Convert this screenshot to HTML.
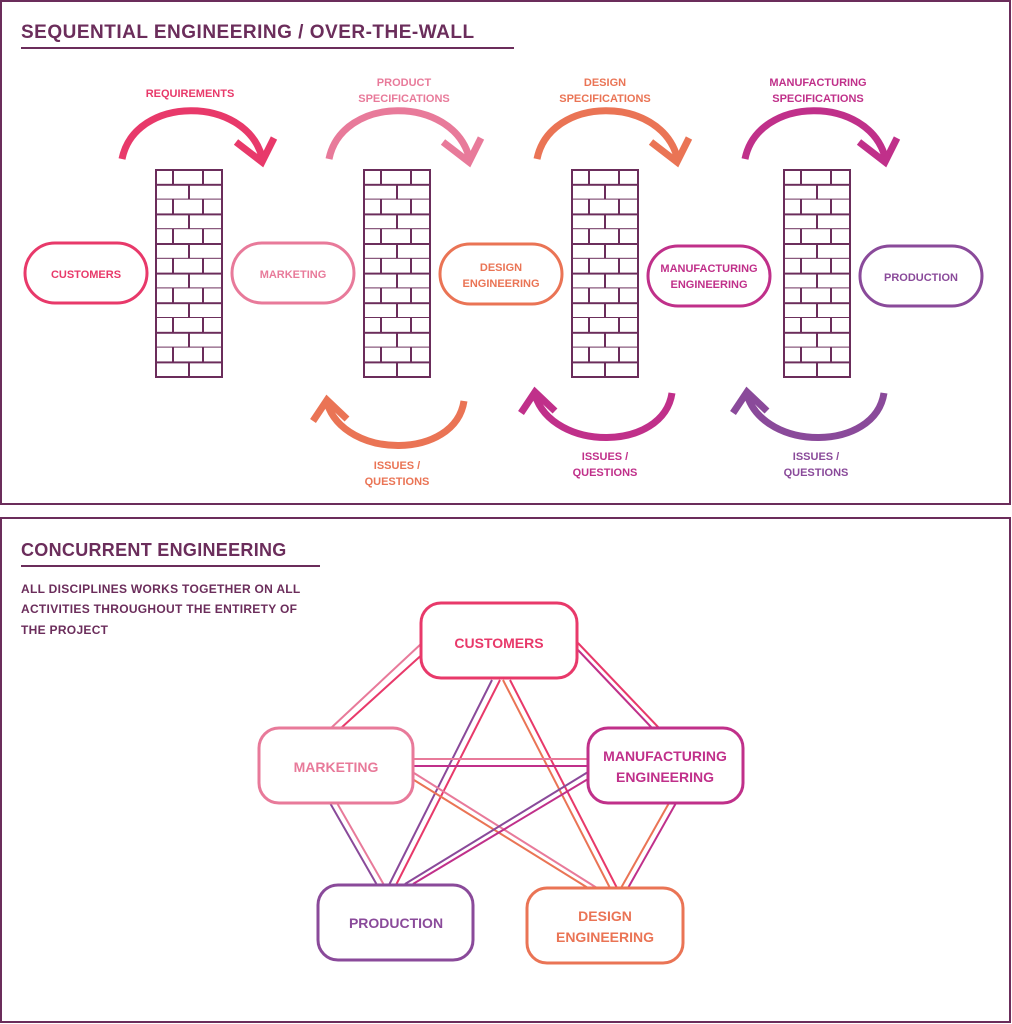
<!DOCTYPE html>
<html><head><meta charset="utf-8"><style>
html,body{margin:0;padding:0;background:#fff}
svg{display:block}
text{font-family:"Liberation Sans",sans-serif;font-weight:bold;text-anchor:middle}
</style></head><body>
<svg width="1012" height="1024" viewBox="0 0 1012 1024" xmlns="http://www.w3.org/2000/svg">
<defs>
<pattern id="br" x="0" y="0" width="66" height="29.6" patternUnits="userSpaceOnUse">
<line x1="0" y1="14.8" x2="66" y2="14.8" stroke="#6b2d5b" stroke-width="2"/>
<line x1="0" y1="29.6" x2="66" y2="29.6" stroke="#6b2d5b" stroke-width="2"/>
<line x1="17" y1="0" x2="17" y2="14.8" stroke="#6b2d5b" stroke-width="2"/>
<line x1="47" y1="0" x2="47" y2="14.8" stroke="#6b2d5b" stroke-width="2"/>
<line x1="33" y1="14.8" x2="33" y2="29.6" stroke="#6b2d5b" stroke-width="2"/>
</pattern>
</defs>
<rect x="1" y="1" width="1009" height="503" fill="none" stroke="#6b2d5b" stroke-width="2"/>
<rect x="1" y="518" width="1009" height="504" fill="none" stroke="#6b2d5b" stroke-width="2"/>
<text x="21" y="38" font-size="19" fill="#6b2d5b" style="text-anchor:start;letter-spacing:0.5px">SEQUENTIAL ENGINEERING / OVER-THE-WALL</text>
<line x1="21" y1="48" x2="514" y2="48" stroke="#6b2d5b" stroke-width="2"/>

<g>
<g transform="translate(156,170)"><rect x="0" y="0" width="66" height="207" fill="url(#br)" stroke="#6b2d5b" stroke-width="2"/></g>
<g transform="translate(364,170)"><rect x="0" y="0" width="66" height="207" fill="url(#br)" stroke="#6b2d5b" stroke-width="2"/></g>
<g transform="translate(572,170)"><rect x="0" y="0" width="66" height="207" fill="url(#br)" stroke="#6b2d5b" stroke-width="2"/></g>
<g transform="translate(784,170)"><rect x="0" y="0" width="66" height="207" fill="url(#br)" stroke="#6b2d5b" stroke-width="2"/></g>
</g>

<g stroke-width="3" fill="#fff" font-size="11">
<rect x="25" y="243" width="122" height="60" rx="30" stroke="#e8396a"/>
<text x="86" y="278" fill="#e8396a" stroke="none">CUSTOMERS</text>
<rect x="232" y="243" width="122" height="60" rx="30" stroke="#e87a9a"/>
<text x="293" y="278" fill="#e87a9a" stroke="none">MARKETING</text>
<rect x="440" y="244" width="122" height="60" rx="30" stroke="#ea7455"/>
<text x="501" y="271" fill="#ea7455" stroke="none">DESIGN</text>
<text x="501" y="287" fill="#ea7455" stroke="none">ENGINEERING</text>
<rect x="648" y="246" width="122" height="60" rx="30" stroke="#c0308a"/>
<text x="709" y="272" fill="#c0308a" stroke="none">MANUFACTURING</text>
<text x="709" y="288" fill="#c0308a" stroke="none">ENGINEERING</text>
<rect x="860" y="246" width="122" height="60" rx="30" stroke="#8a4a9a"/>
<text x="921" y="281" fill="#8a4a9a" stroke="none">PRODUCTION</text>
</g>

<g fill="none" stroke-width="7">
<path d="M122,159 C135,95 245,95 262,157" stroke="#e8396a"/>
<path d="M236,142 L262,162 L274,138" stroke="#e8396a"/>
<path d="M329,159 C342,95 452,95 469,157" stroke="#e87a9a"/>
<path d="M443,142 L469,162 L481,138" stroke="#e87a9a"/>
<path d="M537,159 C550,95 660,95 677,157" stroke="#ea7455"/>
<path d="M651,142 L677,162 L689,138" stroke="#ea7455"/>
<path d="M745,159 C758,95 868,95 885,157" stroke="#c0308a"/>
<path d="M859,142 L885,162 L897,138" stroke="#c0308a"/>
</g>
<g font-size="11">
<text x="190" y="97" fill="#e8396a">REQUIREMENTS</text>
<text x="404" y="86" fill="#e87a9a">PRODUCT</text>
<text x="404" y="102" fill="#e87a9a">SPECIFICATIONS</text>
<text x="605" y="86" fill="#ea7455">DESIGN</text>
<text x="605" y="102" fill="#ea7455">SPECIFICATIONS</text>
<text x="818" y="86" fill="#c0308a">MANUFACTURING</text>
<text x="818" y="102" fill="#c0308a">SPECIFICATIONS</text>
</g>

<g fill="none" stroke-width="7">
<path d="M464,401 C455,460 345,460 327,403" stroke="#ea7455"/>
<path d="M313,421 L327,400 L347,419" stroke="#ea7455"/>
<path d="M672,393 C663,452 553,452 535,395" stroke="#c0308a"/>
<path d="M521,413 L535,392 L555,411" stroke="#c0308a"/>
<path d="M884,393 C875,452 765,452 747,395" stroke="#8a4a9a"/>
<path d="M733,413 L747,392 L767,411" stroke="#8a4a9a"/>
</g>
<g font-size="11">
<text x="397" y="469" fill="#ea7455">ISSUES /</text>
<text x="397" y="485" fill="#ea7455">QUESTIONS</text>
<text x="605" y="460" fill="#c0308a">ISSUES /</text>
<text x="605" y="476" fill="#c0308a">QUESTIONS</text>
<text x="816" y="460" fill="#8a4a9a">ISSUES /</text>
<text x="816" y="476" fill="#8a4a9a">QUESTIONS</text>
</g>

<text x="21" y="556" font-size="18" fill="#6b2d5b" style="text-anchor:start;letter-spacing:0.3px">CONCURRENT ENGINEERING</text>
<line x1="21" y1="566" x2="320" y2="566" stroke="#6b2d5b" stroke-width="2"/>
<g font-size="12" fill="#6b2d5b" style="letter-spacing:0.3px">
<text x="21" y="593" style="text-anchor:start">ALL DISCIPLINES WORKS TOGETHER ON ALL</text>
<text x="21" y="613" style="text-anchor:start">ACTIVITIES THROUGHOUT THE ENTIRETY OF</text>
<text x="21" y="634" style="text-anchor:start">THE PROJECT</text>
</g>

<g stroke-width="2" fill="none">
<line x1="422" y1="643" x2="331" y2="728" stroke="#e87a9a"/>
<line x1="426" y1="651" x2="341" y2="728" stroke="#e8396a"/>
<line x1="578" y1="643" x2="659" y2="728" stroke="#e8396a"/>
<line x1="578" y1="650" x2="652" y2="728" stroke="#c0308a"/>
<line x1="492" y1="680" x2="389" y2="885" stroke="#8a4a9a"/>
<line x1="500" y1="680" x2="396" y2="885" stroke="#e8396a"/>
<line x1="503" y1="680" x2="610" y2="888" stroke="#ea7455"/>
<line x1="510" y1="680" x2="617" y2="888" stroke="#e8396a"/>
<line x1="414" y1="759" x2="588" y2="759" stroke="#e87a9a"/>
<line x1="414" y1="766" x2="588" y2="766" stroke="#c0308a"/>
<line x1="330" y1="803" x2="377" y2="885" stroke="#8a4a9a"/>
<line x1="337" y1="803" x2="384" y2="885" stroke="#e87a9a"/>
<line x1="414" y1="773" x2="597" y2="888" stroke="#e87a9a"/>
<line x1="414" y1="780" x2="588" y2="888" stroke="#ea7455"/>
<line x1="588" y1="772" x2="405" y2="884" stroke="#8a4a9a"/>
<line x1="588" y1="779" x2="413" y2="884" stroke="#c0308a"/>
<line x1="669" y1="803" x2="621" y2="888" stroke="#ea7455"/>
<line x1="676" y1="803" x2="628" y2="888" stroke="#c0308a"/>
</g>

<g stroke-width="3" fill="#fff" font-size="14">
<rect x="421" y="603" width="156" height="75" rx="20" stroke="#e8396a"/>
<text x="499" y="648" fill="#e8396a" stroke="none">CUSTOMERS</text>
<rect x="259" y="728" width="154" height="75" rx="20" stroke="#e87a9a"/>
<text x="336" y="772" fill="#e87a9a" stroke="none">MARKETING</text>
<rect x="588" y="728" width="155" height="75" rx="20" stroke="#c0308a"/>
<text x="665" y="761" fill="#c0308a" stroke="none">MANUFACTURING</text>
<text x="665" y="782" fill="#c0308a" stroke="none">ENGINEERING</text>
<rect x="318" y="885" width="155" height="75" rx="20" stroke="#8a4a9a"/>
<text x="396" y="928" fill="#8a4a9a" stroke="none">PRODUCTION</text>
<rect x="527" y="888" width="156" height="75" rx="20" stroke="#ea7455"/>
<text x="605" y="921" fill="#ea7455" stroke="none">DESIGN</text>
<text x="605" y="942" fill="#ea7455" stroke="none">ENGINEERING</text>
</g>
</svg>
</body></html>
